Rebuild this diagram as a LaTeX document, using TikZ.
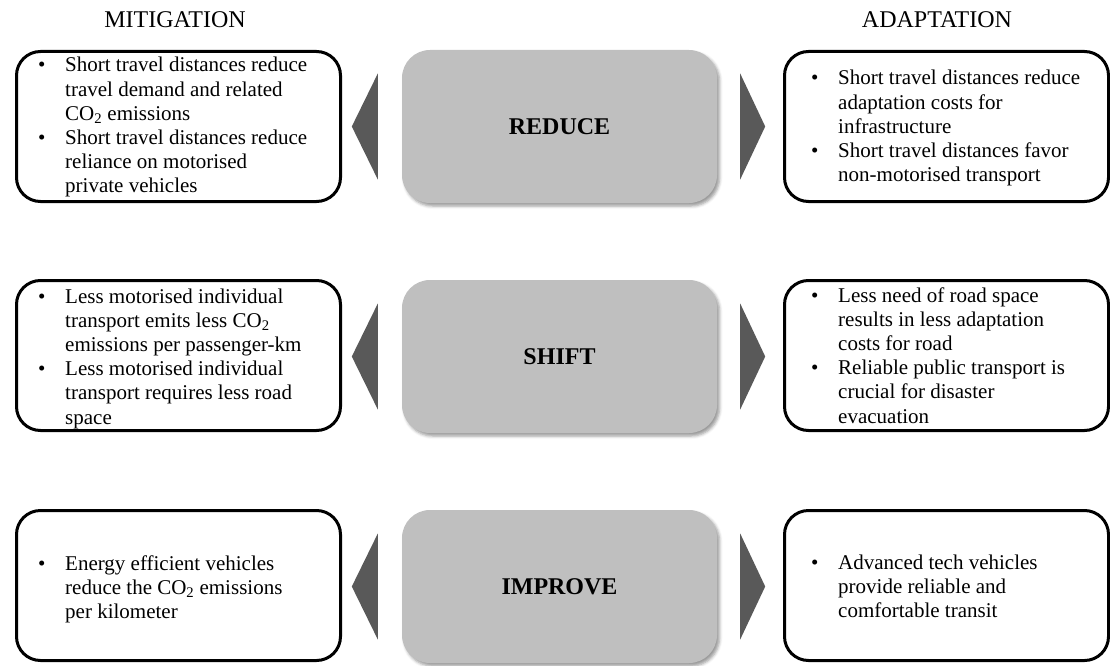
\documentclass[tikz,border=0pt]{standalone}
\usepackage{fontspec}
\setmainfont{Liberation Serif}
\usetikzlibrary{shadows.blur}
\definecolor{boxgrey}{RGB}{191,191,191}
\definecolor{arrowgrey}{RGB}{89,89,89}
% bullet cell of a list row
\newcommand\bl{\makebox[27pt][l]{\fontsize{21}{21}\selectfont\textbullet}}
\newcommand\co{CO\textsubscript{2}}
\begin{document}
\begin{tikzpicture}[x=1pt,y=-1pt,
  outlined/.style={draw=black, line width=3pt, rounded corners=24pt, fill=white,
    minimum width=324pt, minimum height=150pt, inner sep=0pt},
  stage/.style={fill=boxgrey, rounded corners=28pt, minimum width=315pt,
    minimum height=153pt, inner sep=0pt,
    blur shadow={shadow xshift=2.5pt, shadow yshift=-3pt, shadow blur radius=3pt, shadow opacity=40},
    font=\fontsize{24}{28}\selectfont\bfseries},
  heading/.style={anchor=base, inner sep=0pt, font=\fontsize{24}{28}\selectfont},
  listtext/.style={anchor=base west, inner sep=0pt, font=\fontsize{21}{24.2}\selectfont},
  pointer/.style={fill=arrowgrey}
]
\useasboundingbox (0,0) rectangle (1110,666);

% column headings
\node[heading] (mit) at (175,28) {MITIGATION};
\node[heading] (ada) at (937,28) {ADAPTATION};

% outlined boxes, left and right
\node[outlined] (L1) at (178.5,126.5) {};
\node[outlined] (L2) at (178.5,355.5) {};
\node[outlined] (L3) at (178.5,585.5) {};
\node[outlined] (R1) at (946.5,126.5) {};
\node[outlined] (R2) at (946.5,355.5) {};
\node[outlined] (R3) at (946.5,585.5) {};

% grey stage boxes in the middle
\node[stage] (reduce)  at (559.5,126.5) {REDUCE};
\node[stage] (shift)   at (559.5,356.5) {SHIFT};
\node[stage] (improve) at (559.5,586.5) {IMPROVE};

% pointers from each stage towards both sides
\foreach \s in {reduce,shift,improve}{
  \fill[pointer] ([xshift=-50pt]\s.west) -- ++(26pt,53pt) -- ++(0,-106pt) -- cycle;
  \fill[pointer] ([xshift=48pt]\s.east) -- ++(-25pt,53pt) -- ++(0,-106pt) -- cycle;
}

% mitigation texts
\node[listtext] (t1) at (38,72) {\begin{tabular}[t]{@{}l@{}l@{}}
\bl & Short travel distances reduce\\
    & travel demand and related\\
    & \co{} emissions\\
\bl & Short travel distances reduce\\
    & reliance on motorised\\
    & private vehicles
\end{tabular}};
\node[listtext] (t2) at (38,303) {\begin{tabular}[t]{@{}l@{}l@{}}
\bl & Less motorised individual\\
    & transport emits less \co\\
    & emissions per passenger-km\\
\bl & Less motorised individual\\
    & transport requires less road\\
    & space
\end{tabular}};
\node[listtext] (t3) at (38,570) {\begin{tabular}[t]{@{}l@{}l@{}}
\bl & Energy efficient vehicles\\
    & reduce the \co{} emissions\\
    & per kilometer
\end{tabular}};

% adaptation texts
\node[listtext] (t4) at (811,85) {\begin{tabular}[t]{@{}l@{}l@{}}
\bl & Short travel distances reduce\\
    & adaptation costs for\\
    & infrastructure\\
\bl & Short travel distances favor\\
    & non-motorised transport
\end{tabular}};
\node[listtext] (t5) at (811,302) {\begin{tabular}[t]{@{}l@{}l@{}}
\bl & Less need of road space\\
    & results in less adaptation\\
    & costs for road\\
\bl & Reliable public transport is\\
    & crucial for disaster\\
    & evacuation
\end{tabular}};
\node[listtext] (t6) at (811,569) {\begin{tabular}[t]{@{}l@{}l@{}}
\bl & Advanced tech vehicles\\
    & provide reliable and\\
    & comfortable transit
\end{tabular}};
\end{tikzpicture}
\end{document}
